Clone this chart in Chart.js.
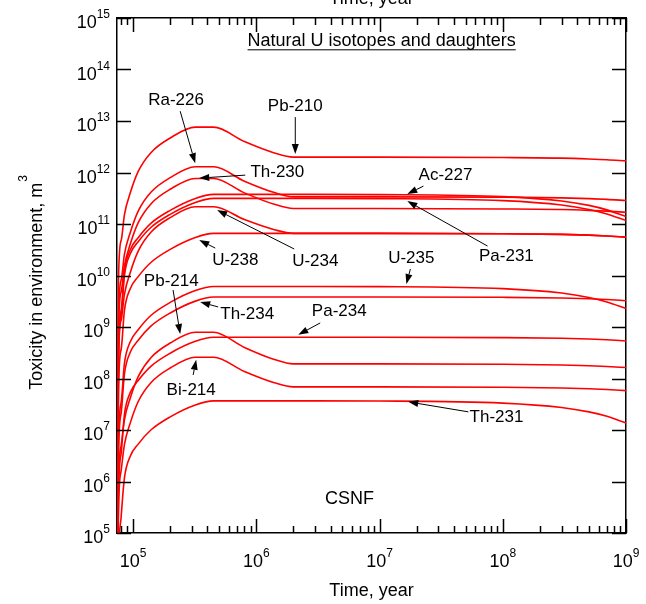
<!DOCTYPE html>
<html>
<head>
<meta charset="utf-8">
<script src="https://cdn.jsdelivr.net/npm/chart.js@4.4.1/dist/chart.umd.min.js"></script>
<style>
  html, body { margin: 0; padding: 0; background: #fff; }
  canvas { display: block; }
</style>
</head>
<body>
<canvas id="toxChart" width="646" height="604"></canvas>
<script>
// time, year
const years = [7.45e4, 7.6e4, 8e4, 8.5e4, 9.5e4, 1.1e5, 1.4e5, 2e5, 3.2e5, 4.5e5, 8e5, 1.4e6, 2e6, 1e7, 1e8, 3e8, 5e8, 7e8, 1e9];

// toxicity in environment, m3
const pb210 = [1e3, 7.59e9, 4.79e10, 1.51e11, 4.07e11, 1.05e12, 2.45e12, 4.68e12, 7.59e12, 7.59e12, 3.99e12, 2.40e12, 1.99e12, 1.99e12, 1.95e12, 1.90e12, 1.83e12, 1.77e12, 1.68e12];
const ra226 = [1e3, 1.29e9, 8.13e9, 2.57e10, 6.92e10, 1.78e11, 4.17e11, 7.94e11, 1.29e12, 1.29e12, 6.78e11, 4.07e11, 3.37e11, 3.37e11, 3.32e11, 3.22e11, 3.11e11, 3.01e11, 2.86e11];
const th230 = [1e3, 7.67e8, 4.84e9, 1.53e10, 4.12e10, 1.06e11, 2.48e11, 4.73e11, 7.67e11, 7.67e11, 4.02e11, 2.41e11, 2.00e11, 2.00e11, 1.96e11, 1.91e11, 1.84e11, 1.78e11, 1.69e11];
const ac227 = [1e3, 2.99e8, 2.11e9, 1.19e10, 3.20e10, 5.43e10, 1.04e11, 1.84e11, 3.13e11, 3.76e11, 3.76e11, 3.76e11, 3.76e11, 3.72e11, 3.40e11, 2.80e11, 2.30e11, 1.88e11, 1.40e11];
const pa231 = [1e3, 2.49e8, 1.77e9, 9.93e9, 2.67e10, 4.54e10, 8.65e10, 1.54e11, 2.61e11, 3.14e11, 3.14e11, 3.14e11, 3.14e11, 3.11e11, 2.84e11, 2.34e11, 1.92e11, 1.57e11, 1.17e11];
const u234 = [1e3, 2.16e8, 1.36e9, 4.31e9, 1.16e10, 2.98e10, 6.98e10, 1.33e11, 2.16e11, 2.16e11, 1.22e11, 7.76e10, 6.58e10, 6.58e10, 6.47e10, 6.28e10, 6.07e10, 5.86e10, 5.57e10];
const u238 = [1e3, 5.22e7, 3.70e8, 2.08e9, 5.60e9, 9.51e9, 1.81e10, 3.22e10, 5.47e10, 6.58e10, 6.58e10, 6.58e10, 6.58e10, 6.58e10, 6.47e10, 6.28e10, 6.07e10, 5.86e10, 5.57e10];
const u235 = [1e3, 4.86e6, 3.44e7, 1.94e8, 5.21e8, 8.85e8, 1.69e9, 3.00e9, 5.09e9, 6.12e9, 6.12e9, 6.12e9, 6.12e9, 6.07e9, 5.55e9, 4.56e9, 3.74e9, 3.07e9, 2.29e9];
const th234 = [1e3, 3.04e6, 2.15e7, 1.21e8, 3.26e8, 5.53e8, 1.05e9, 1.87e9, 3.18e9, 3.83e9, 3.83e9, 3.83e9, 3.83e9, 3.83e9, 3.77e9, 3.66e9, 3.53e9, 3.41e9, 3.24e9];
const pa234 = [1e3, 5.02e5, 3.56e6, 2.00e7, 5.38e7, 9.14e7, 1.74e8, 3.10e8, 5.26e8, 6.32e8, 6.32e8, 6.32e8, 6.32e8, 6.32e8, 6.22e8, 6.04e8, 5.83e8, 5.64e8, 5.36e8];
const pb214 = [1e3, 7.91e5, 4.99e6, 1.58e7, 4.25e7, 1.09e8, 2.56e8, 4.88e8, 7.91e8, 7.91e8, 4.01e8, 2.34e8, 1.92e8, 1.92e8, 1.89e8, 1.83e8, 1.77e8, 1.71e8, 1.63e8];
const bi214 = [1e3, 2.59e5, 1.64e6, 5.18e6, 1.39e7, 3.58e7, 8.39e7, 1.60e8, 2.59e8, 2.59e8, 1.37e8, 8.28e7, 6.87e7, 6.87e7, 6.76e7, 6.56e7, 6.34e7, 6.12e7, 5.82e7];
const th231 = [1e3, 2.92e4, 2.07e5, 1.16e6, 3.13e6, 5.32e6, 1.01e7, 1.80e7, 3.06e7, 3.68e7, 3.68e7, 3.68e7, 3.68e7, 3.65e7, 3.33e7, 2.74e7, 2.25e7, 1.85e7, 1.37e7];

const nuclides = ['Pb-210', 'Ra-226', 'Th-230', 'Ac-227', 'Pa-231', 'U-234', 'U-238', 'U-235', 'Th-234', 'Pa-234', 'Pb-214', 'Bi-214', 'Th-231'];
const series = [pb210, ra226, th230, ac227, pa231, u234, u238, u235, th234, pa234, pb214, bi214, th231];

// axis ticks (decade exponents)
const xDecades = [5, 6, 7, 8, 9];
const yDecades = [5, 6, 7, 8, 9, 10, 11, 12, 13, 14, 15];

// labels with arrows: [time, toxicity]
const notes = [
    { text: 'Ra-226', at: [2.23e5, 2.54e13], from: [2.41e5, 1.55e13], to: [3.19e5, 1.52e12] },
    { text: 'Pb-210', at: [2.07e6, 1.94e13], from: [2.07e6, 1.19e13], to: [2.07e6, 2.28e12] },
    { text: 'Th-230', at: [1.48e6, 1.02e12], from: [8.13e5, 8.89e11], to: [3.44e5, 7.78e11] },
    { text: 'Ac-227', at: [3.43e7, 8.89e11], from: [2.27e7, 5.44e11], to: [1.68e7, 3.81e11] },
    { text: 'Pa-231', at: [1.07e8, 2.39e10], from: [7.52e7, 3.73e10], to: [1.68e7, 2.79e11] },
    { text: 'U-238', at: [6.75e5, 2.00e10], from: [4.64e5, 3.41e10], to: [3.44e5, 4.88e10] },
    { text: 'U-234', at: [3.01e6, 1.91e10], from: [2.03e6, 3.27e10], to: [4.81e5, 1.86e11] },
    { text: 'U-235', at: [1.81e7, 2.18e10], from: [1.78e7, 1.34e10], to: [1.65e7, 6.84e9] },
    { text: 'Pb-214', at: [2.04e5, 7.82e9], from: [2.11e5, 5.24e9], to: [2.41e5, 7.33e8] },
    { text: 'Th-234', at: [8.43e5, 1.79e9], from: [4.90e5, 2.45e9], to: [3.50e5, 3.06e9] },
    { text: 'Pa-234', at: [4.71e6, 2.05e9], from: [3.30e6, 1.20e9], to: [2.19e6, 7.06e8] },
    { text: 'Bi-214', at: [2.96e5, 6.01e7], from: [3.07e5, 1.17e8], to: [3.25e5, 2.30e8] },
    { text: 'Th-231', at: [8.89e7, 1.80e7], from: [5.26e7, 2.25e7], to: [1.71e7, 3.52e7] }
];
const chartTitle = { text: 'Natural U isotopes and daughters', at: [1.04e7, 3.69e14] };
const caseLabel = { text: 'CSNF', at: [5.69e6, 4.84e5] };

const FONT = '"Liberation Sans", Arial, sans-serif';

function drawPower(ctx, exp, px, py, align) {
    ctx.font = '18px ' + FONT;
    const w1 = ctx.measureText('10').width;
    ctx.font = '12px ' + FONT;
    const w2 = ctx.measureText(String(exp)).width;
    const left = align === 'center' ? px - (w1 + w2) / 2 : px - w1 - w2;
    ctx.textAlign = 'left';
    ctx.textBaseline = 'alphabetic';
    ctx.font = '18px ' + FONT;
    ctx.fillText('10', left, py);
    ctx.font = '12px ' + FONT;
    ctx.fillText(String(exp), left + w1, py - 10);
}

function drawArrow(ctx, x1, y1, x2, y2) {
    const ang = Math.atan2(y2 - y1, x2 - x1);
    const len = 10, half = 3.5;
    const bx = x2 - len * Math.cos(ang), by = y2 - len * Math.sin(ang);
    ctx.lineWidth = 1;
    ctx.beginPath();
    ctx.moveTo(x1, y1);
    ctx.lineTo(bx, by);
    ctx.stroke();
    ctx.beginPath();
    ctx.moveTo(x2, y2);
    ctx.lineTo(bx + half * Math.sin(ang), by - half * Math.cos(ang));
    ctx.lineTo(bx - half * Math.sin(ang), by + half * Math.cos(ang));
    ctx.closePath();
    ctx.fill();
}

const decorations = {
    id: 'decorations',
    afterDraw(chart) {
        const { ctx, chartArea: area } = chart;
        const xs = chart.scales.x, ys = chart.scales.y;
        const X = v => xs.getPixelForValue(v);
        const Y = v => ys.getPixelForValue(v);
        ctx.save();
        ctx.strokeStyle = '#000';
        ctx.fillStyle = '#000';

        // tick marks, inward, on all four sides
        ctx.lineWidth = 1.5;
        ctx.beginPath();
        for (let e = 4; e <= 9; e++) {
            for (let k = 1; k <= 9; k++) {
                const v = k * Math.pow(10, e);
                if (v < xs.min || v > xs.max) continue;
                const px = Math.round(X(v)) + 0.5;
                const len = k === 1 ? 14 : 7;
                ctx.moveTo(px, area.bottom);
                ctx.lineTo(px, area.bottom - len);
                ctx.moveTo(px, area.top);
                ctx.lineTo(px, area.top + len);
            }
        }
        yDecades.forEach(e => {
            const py = Math.round(Y(Math.pow(10, e))) + 0.5;
            ctx.moveTo(area.left, py);
            ctx.lineTo(area.left + 14, py);
            ctx.moveTo(area.right, py);
            ctx.lineTo(area.right - 14, py);
        });
        ctx.stroke();

        // tick labels
        xDecades.forEach(e => drawPower(ctx, e, X(Math.pow(10, e)), area.bottom + 34, 'center'));
        yDecades.forEach(e => drawPower(ctx, e, area.left - 7, Y(Math.pow(10, e)) + 10, 'right'));

        // axis titles
        ctx.font = '18px ' + FONT;
        ctx.textAlign = 'center';
        ctx.textBaseline = 'alphabetic';
        const midX = (area.left + area.right) / 2;
        ctx.fillText('Time, year', midX, area.bottom + 63);
        ctx.fillText('Time, year', midX, 4);

        ctx.save();
        ctx.translate(42, 283);
        ctx.rotate(-Math.PI / 2);
        const main = 'Toxicity in environment, m';
        ctx.font = '18px ' + FONT;
        const wm = ctx.measureText(main).width;
        ctx.font = '12px ' + FONT;
        const ws = ctx.measureText('3').width;
        const start = -(wm + ws) / 2;
        ctx.textAlign = 'left';
        ctx.font = '18px ' + FONT;
        ctx.fillText(main, start, 0);
        ctx.font = '12px ' + FONT;
        ctx.fillText('3', start + wm + 1, -15);
        ctx.restore();

        // title inside the plot, underlined
        ctx.font = '18px ' + FONT;
        ctx.textAlign = 'center';
        ctx.textBaseline = 'alphabetic';
        const tx = X(chartTitle.at[0]), ty = Y(chartTitle.at[1]) + 6;
        ctx.fillText(chartTitle.text, tx, ty);
        const tw = ctx.measureText(chartTitle.text).width;
        ctx.fillRect(tx - tw / 2, ty + 3, tw, 1);

        ctx.fillText(caseLabel.text, X(caseLabel.at[0]), Y(caseLabel.at[1]) + 6);

        // nuclide labels and arrows
        ctx.font = '17px ' + FONT;
        ctx.textBaseline = 'middle';
        notes.forEach(n => {
            ctx.fillText(n.text, X(n.at[0]), Y(n.at[1]));
            drawArrow(ctx, X(n.from[0]), Y(n.from[1]), X(n.to[0]), Y(n.to[1]));
        });
        ctx.restore();
    }
};

function logAxis(position, min, max, size) {
    const horizontal = position === 'top' || position === 'bottom';
    return {
        type: 'logarithmic',
        position: position,
        min: min,
        max: max,
        ticks: { display: false },
        grid: { drawOnChartArea: false, drawTicks: false },
        border: { display: true, color: '#000', width: 1.5 },
        afterFit: scale => {
            if (horizontal) scale.height = size; else scale.width = size;
        }
    };
}

const ctx = document.getElementById('toxChart').getContext('2d');

const toxChart = new Chart(ctx, {
    type: 'line',
    data: {
        datasets: series.map((vals, i) => ({
            label: nuclides[i],
            data: years.map((t, j) => ({ x: t, y: vals[j] })),
            borderColor: '#ff0000',
            borderWidth: 1.6,
            pointRadius: 0,
            fill: false,
            cubicInterpolationMode: 'monotone'
        }))
    },
    options: {
        responsive: false,
        animation: false,
        layout: { padding: 0 },
        plugins: {
            legend: { display: false },
            tooltip: { enabled: false }
        },
        scales: {
            x: logAxis('bottom', 7.4e4, 1e9, 71),
            x2: logAxis('top', 7.4e4, 1e9, 18),
            y: logAxis('left', 1e5, 1e15, 117),
            y2: logAxis('right', 1e5, 1e15, 20)
        }
    },
    plugins: [decorations]
});
</script>
</body>
</html>
